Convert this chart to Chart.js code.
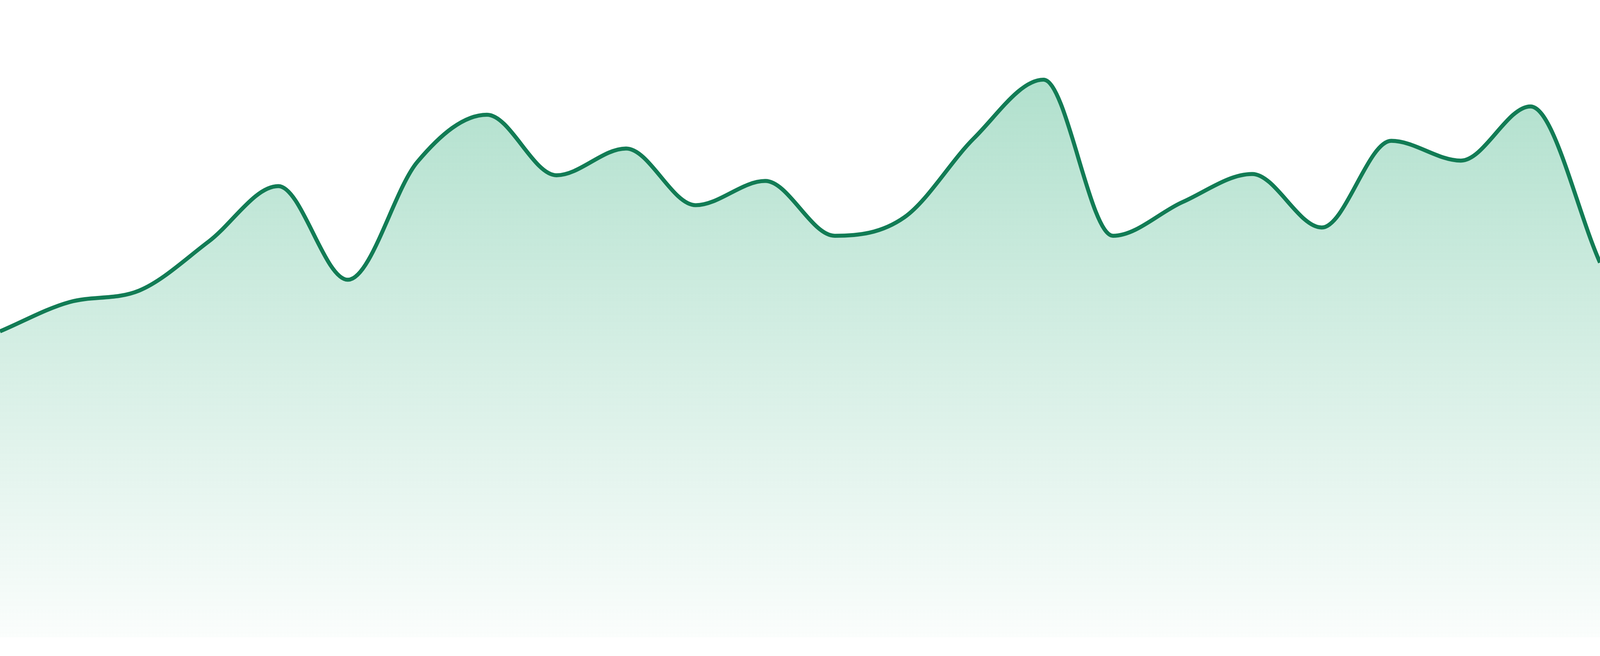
<!DOCTYPE html>
<html>
<head>
<meta charset="utf-8">
<script src="https://cdn.jsdelivr.net/npm/chart.js@4"></script>
<style>
    html, body { margin: 0; padding: 0; background: #fff; overflow: hidden; }
    #wrap { width: 100vw; height: 100vh; position: relative; }
</style>
</head>
<body>
<div id="wrap"><canvas id="areaChart"></canvas></div>
<script>
// 24 evenly spaced samples, no axis text shown
const labels = ['1', '2', '3', '4', '5', '6', '7', '8', '9', '10', '11', '12',
                '13', '14', '15', '16', '17', '18', '19', '20', '21', '22', '23', '24'];
const values = [48.0, 52.6, 54.4, 62.1, 70.8, 56.1, 74.6, 82.0, 72.5, 76.7, 67.8, 71.6,
                63.0, 65.9, 78.3, 87.5, 63.0, 68.3, 72.7, 64.3, 77.9, 74.8, 83.3, 58.8];
const yRange = [0, 100];

const lineColor = '#127c55';

// sizes were measured on the 4800x1680 picture, scale them to the real viewport
const unit = window.innerWidth / 4800;
const unitY = window.innerHeight / 1680;

// vertical fade under the line
function fadeFill(context) {
    const chart = context.chart;
    const area = chart.chartArea;
    if (!area) return 'rgba(22, 163, 106, 0.2)';
    const g = chart.ctx.createLinearGradient(0, area.top, 0, area.bottom);
    g.addColorStop(0, 'rgba(22, 163, 106, 0.38)');
    g.addColorStop(1, 'rgba(22, 163, 106, 0.02)');
    return g;
}

const ctx = document.getElementById('areaChart');
new Chart(ctx, {
    type: 'line',
    data: {
        labels: labels,
        datasets: [{
            data: values,
            borderColor: lineColor,
            borderWidth: 12 * unit,
            backgroundColor: fadeFill,
            fill: 'origin',
            pointRadius: 0,
            cubicInterpolationMode: 'monotone'
        }]
    },
    options: {
        responsive: true,
        maintainAspectRatio: false,
        animation: false,
        layout: { padding: { top: 0, left: 0, right: 0, bottom: 48 * unitY } },
        plugins: {
            legend: { display: false },
            tooltip: { enabled: false }
        },
        scales: {
            x: { display: false, offset: false },
            y: { display: false, min: yRange[0], max: yRange[1] }
        }
    }
});
</script>
</body>
</html>
